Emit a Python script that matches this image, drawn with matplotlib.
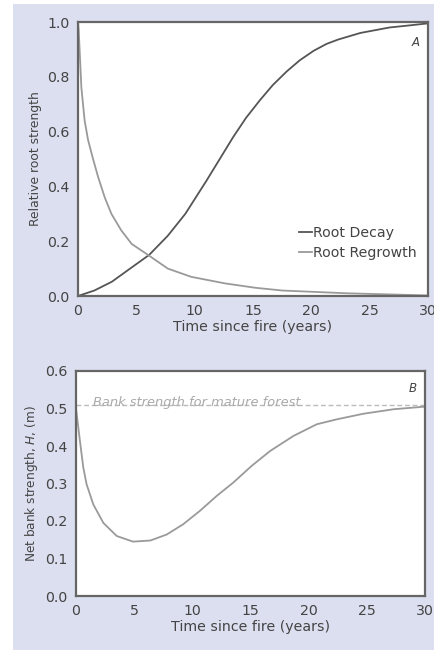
import numpy as np
import matplotlib.pyplot as plt
from matplotlib.patches import Rectangle

# Panel A: relative root strength after fire
years_decay = [0, 1.4, 2.9, 4.3, 6.1, 7.7, 9.2, 10.1, 11.0, 12.15, 13.3, 14.4, 15.6,
               16.7, 17.9, 19.0, 20.2, 21.3, 22.3, 24.2, 26.7, 28.5, 30]
root_decay = [0.0, 0.02, 0.052, 0.095, 0.15, 0.22, 0.30, 0.36, 0.42, 0.50, 0.58,
              0.65, 0.715, 0.77, 0.82, 0.86, 0.895, 0.92, 0.936, 0.960, 0.980,
              0.988, 0.995]
years_regrowth = [0, 0.06, 0.29, 0.57, 0.86, 1.29, 1.72, 2.29, 2.86, 3.7, 4.6, 6.0,
                  7.7, 9.7, 12.6, 15.2, 17.5, 23, 30]
root_regrowth = [1.0, 0.97, 0.76, 0.64, 0.57, 0.50, 0.435, 0.36, 0.30, 0.24, 0.19, 0.15,
                 0.10, 0.07, 0.046, 0.03, 0.02, 0.01, 0.002]

# Panel B: net bank strength
years_bank = [0, 0.34, 0.63, 0.91, 1.49, 2.35, 3.5, 4.9, 6.4, 7.8, 9.2, 10.65, 12.1,
              13.5, 15.1, 16.7, 18.7, 20.7, 22.4, 24.7, 27.3, 30]
bank_strength = [0.50, 0.413, 0.342, 0.298, 0.244, 0.195, 0.16, 0.145, 0.148, 0.164,
                 0.191, 0.227, 0.267, 0.302, 0.347, 0.387, 0.427, 0.458, 0.471, 0.486,
                 0.498, 0.505]
mature_forest = 0.51

bg = "#dcdff0"
dark = "#555555"
light = "#9a9a9a"
txt = "#444444"
fs = 10.2

fig = plt.figure(figsize=(4.35, 6.5), dpi=100, facecolor="white")
fig.patches.append(Rectangle((13 / 435, 0), 1, 1 - 4 / 650, transform=fig.transFigure,
                             facecolor=bg, edgecolor="none", zorder=-1))


def style(ax):
    for s in ax.spines.values():
        s.set_color("#666666")
        s.set_linewidth(1.6)
    ax.tick_params(length=0, labelsize=fs, colors=txt, pad=6)
    ax.set_xlim(0, 30)
    ax.set_xticks([0, 5, 10, 15, 20, 25, 30])
    ax.set_xlabel("Time since fire (years)", fontsize=fs, color=txt, labelpad=1)


# panel A
ax1 = fig.add_axes([78 / 435, 1 - 296 / 650, 350 / 435, 274 / 650])
ax1.plot(years_decay, root_decay, color=dark, lw=1.3, label="Root Decay",
         solid_joinstyle="round")
ax1.plot(years_regrowth, root_regrowth, color=light, lw=1.3, label="Root Regrowth",
         solid_joinstyle="round")
ax1.set_ylim(0, 1.0)
ax1.set_yticks([0.0, 0.2, 0.4, 0.6, 0.8, 1.0])
ax1.set_yticklabels(["0.0", "0.2", "0.4", "0.6", "0.8", "1.0"])
ax1.set_ylabel("Relative root strength", fontsize=8.9, color=txt, labelpad=4)
ax1.text(0.975, 0.95, "A", transform=ax1.transAxes, ha="right", va="top",
         fontsize=8.5, style="italic", color=txt)
ax1.legend(loc="lower right", bbox_to_anchor=(0.985, 0.11), frameon=False,
           handlelength=0.9, handletextpad=0.1, fontsize=fs, labelcolor=txt,
           borderaxespad=0, labelspacing=0.45)
style(ax1)

# panel B
ax2 = fig.add_axes([76 / 435, 1 - 596 / 650, 349 / 435, 225 / 650])
ax2.axhline(mature_forest, color="#bbbbbb", lw=1, ls=(0, (3.5, 2)))
ax2.text(1.5, mature_forest - 0.004, "Bank strength for mature forest", fontsize=9.4,
         style="italic", color="#aaaaaa", va="baseline")
ax2.plot(years_bank, bank_strength, color=light, lw=1.3, solid_joinstyle="round")
ax2.set_ylim(0, 0.6)
ax2.set_yticks([0.0, 0.1, 0.2, 0.3, 0.4, 0.5, 0.6])
ax2.set_yticklabels(["0.0", "0.1", "0.2", "0.3", "0.4", "0.5", "0.6"])
ax2.set_ylabel("Net bank strength, $\\it{H}$, (m)", fontsize=8.7, color=txt, labelpad=4)
ax2.text(0.975, 0.95, "B", transform=ax2.transAxes, ha="right", va="top",
         fontsize=8.5, style="italic", color=txt)
style(ax2)

fig.savefig("out.png", dpi=100, facecolor=fig.get_facecolor())
